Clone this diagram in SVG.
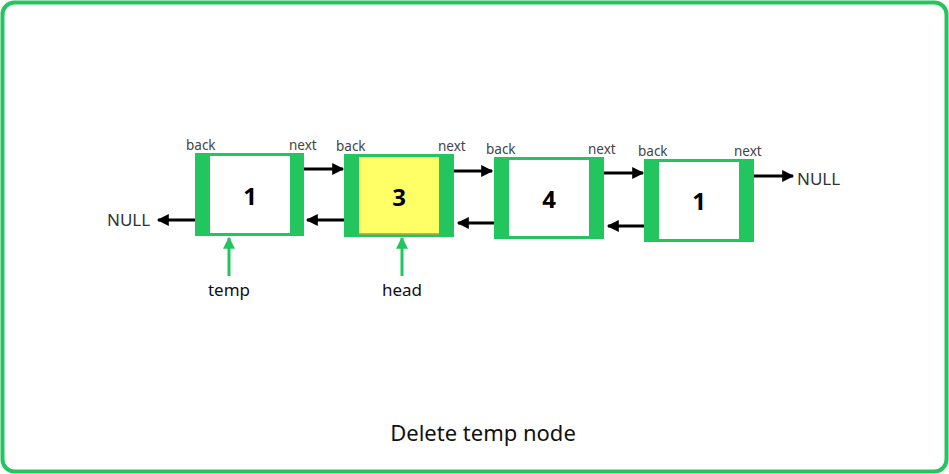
<svg xmlns="http://www.w3.org/2000/svg" width="949" height="474" viewBox="0 0 949 474">
<defs>
<marker id="ah" viewBox="0 0 10 10" refX="9" refY="5" markerWidth="4.5" markerHeight="4" markerUnits="strokeWidth" orient="auto">
<path d="M0,0 L10,5 L0,10 z" fill="#000"/>
</marker>
<marker id="gh" viewBox="0 0 10 10" refX="9" refY="5" markerWidth="4.5" markerHeight="4" markerUnits="strokeWidth" orient="auto">
<path d="M0,0 L10,5 L0,10 z" fill="#22c55e"/>
</marker>
<style>
.frame{fill:#fff;stroke:#22c55e;stroke-width:4}
.outer{fill:#22c55e}
.inner{fill:#fff}
.num{font-family:"Noto Sans","DejaVu Sans",sans-serif;font-weight:bold;font-size:24px;fill:#000;text-anchor:middle}
.lbl{font-family:"Noto Sans","DejaVu Sans",sans-serif;font-size:13.5px;fill:#444}
.nul{font-family:"Noto Sans","DejaVu Sans",sans-serif;font-size:17px;fill:#333}
.ptr{font-family:"Noto Sans","DejaVu Sans",sans-serif;font-size:17px;fill:#111;text-anchor:middle}
.title{font-family:"Noto Sans","DejaVu Sans",sans-serif;font-size:22px;fill:#111;text-anchor:middle}
.arr{stroke:#000;stroke-width:3;fill:none;marker-end:url(#ah)}
.garr{stroke:#22c55e;stroke-width:3;fill:none;marker-end:url(#gh)}
</style>
</defs>
<rect class="frame" x="2.5" y="2.5" width="944" height="469" rx="12"/>
<g id="node1">
<rect class="outer" x="195" y="153" width="109" height="83"/>
<rect class="inner" x="210" y="156" width="80" height="77"/>
<text class="num" x="250" y="205">1</text>
<text class="lbl" x="186" y="150">back</text>
<text class="lbl" x="289" y="150">next</text>
</g>
<g id="node2">
<rect class="outer" x="344" y="154" width="110" height="83"/>
<rect x="359" y="157" width="80" height="77" fill="#ffff66"/>
<rect x="359" y="233" width="80" height="1.5" fill="#e8a040"/>
<text class="num" x="399" y="206">3</text>
<text class="lbl" x="336" y="151">back</text>
<text class="lbl" x="438" y="151">next</text>
</g>
<g id="node3">
<rect class="outer" x="494" y="157" width="110" height="82"/>
<rect class="inner" x="509" y="160" width="80" height="76"/>
<text class="num" x="549" y="208">4</text>
<text class="lbl" x="486" y="154">back</text>
<text class="lbl" x="588" y="154">next</text>
</g>
<g id="node4">
<rect class="outer" x="644" y="159" width="110" height="83"/>
<rect class="inner" x="659" y="162" width="80" height="77"/>
<text class="num" x="699" y="210">1</text>
<text class="lbl" x="638" y="156">back</text>
<text class="lbl" x="734" y="156">next</text>
</g>
<g id="null-left"><text class="nul" x="107" y="226">NULL</text></g>
<g id="null-right"><text class="nul" x="797" y="185">NULL</text></g>
<g id="temp"><text class="ptr" x="229" y="296">temp</text></g>
<g id="head"><text class="ptr" x="402" y="296">head</text></g>
<g id="connectors">
<line class="arr" x1="304" y1="169" x2="343" y2="169"/>
<line class="arr" x1="344" y1="220" x2="307" y2="220"/>
<line class="arr" x1="195" y1="220" x2="158" y2="220"/>
<line class="arr" x1="454" y1="171" x2="492" y2="171"/>
<line class="arr" x1="494" y1="223" x2="458" y2="223"/>
<line class="arr" x1="604" y1="173" x2="643" y2="173"/>
<line class="arr" x1="644" y1="226" x2="608" y2="226"/>
<line class="arr" x1="754" y1="176" x2="793" y2="176"/>
<line class="garr" x1="229" y1="276" x2="229" y2="238"/>
<line class="garr" x1="402" y1="276" x2="402" y2="238"/>
</g>
<text class="title" x="483" y="441">Delete temp node</text>
</svg>
